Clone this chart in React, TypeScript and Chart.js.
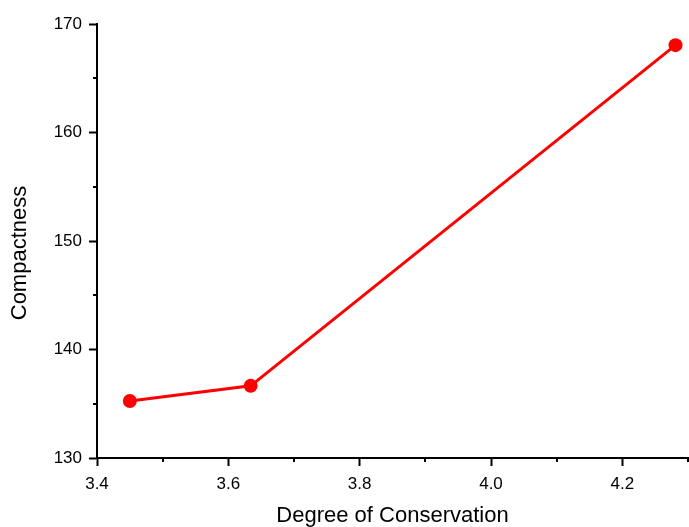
import React, { useEffect, useRef } from "react";
import { Chart, registerables } from "chart.js";

Chart.register(...registerables);

const conservation = [3.45, 3.634, 4.281];
const compactness = [135.25, 136.65, 168.05];
const xMajorStep = 0.2;
const yMajorStep = 10;
const xMinorTicks = [3.5, 3.7, 3.9, 4.1, 4.3];
const yMinorTicks = [135, 145, 155, 165];
const xTitle = "Degree of Conservation";
const yTitle = "Compactness";

const FONT = "'Liberation Sans', Arial, sans-serif";

const extrasPlugin = {
  id: "extras",
  afterDraw(chart: any) {
    const ctx = chart.ctx;
    const xs = chart.scales.x;
    const ys = chart.scales.y;
    const area = chart.chartArea;
    ctx.save();
    ctx.strokeStyle = "#000";
    ctx.lineWidth = 2;
    ctx.beginPath();
    xMinorTicks.forEach((v) => {
      const px = Math.round(xs.getPixelForValue(v));
      ctx.moveTo(px, area.bottom);
      ctx.lineTo(px, area.bottom + 4);
    });
    yMinorTicks.forEach((v) => {
      const py = Math.round(ys.getPixelForValue(v));
      ctx.moveTo(area.left, py);
      ctx.lineTo(area.left - 4, py);
    });
    ctx.stroke();
    // y-axis title
    ctx.translate(20, (area.top + area.bottom) / 2 + 12);
    ctx.rotate(-Math.PI / 2);
    ctx.fillStyle = "#000";
    ctx.font = `22px ${FONT}`;
    ctx.textAlign = "center";
    ctx.textBaseline = "middle";
    ctx.fillText(yTitle, 0, 0);
    ctx.restore();
  },
};

export default function App() {
  const ref = useRef<HTMLCanvasElement>(null);
  useEffect(() => {
    if (!ref.current) return;
    const chart = new Chart(ref.current, {
      type: "line",
      data: {
        datasets: [
          {
            data: conservation.map((x, i) => ({ x, y: compactness[i] })),
            borderColor: "#ff0000",
            backgroundColor: "#ff0000",
            borderWidth: 3,
            pointRadius: 7,
            pointBorderWidth: 0,
            pointBackgroundColor: "#ff0000",
            tension: 0,
            clip: false,
          },
        ],
      },
      options: {
        animation: false,
        responsive: false,
        devicePixelRatio: 1,
        layout: { autoPadding: false, padding: { top: 24, right: 1, left: 0, bottom: 0 } },
        plugins: { legend: { display: false }, tooltip: { enabled: false } },
        scales: {
          x: {
            type: "linear",
            min: 3.4,
            max: 4.3,
            afterFit: (s: any) => {
              s.height = 69;
            },
            ticks: {
              stepSize: xMajorStep,
              includeBounds: false,
              color: "#000",
              padding: 8,
              font: { family: FONT, size: 17 },
              callback: (v: any) => Number(v).toFixed(1),
            },
            grid: {
              display: true,
              drawOnChartArea: false,
              drawTicks: true,
              tickLength: 8,
              tickWidth: 2,
              tickColor: "#000",
            },
            border: { display: true, color: "#000", width: 2 },
            title: {
              display: true,
              text: xTitle,
              color: "#000",
              font: { family: FONT, size: 22, lineHeight: 1.05 },
              padding: { top: 0, bottom: 0 },
            },
          },
          y: {
            type: "linear",
            min: 130,
            max: 170,
            afterFit: (s: any) => {
              s.width = 97;
            },
            ticks: {
              stepSize: yMajorStep,
              includeBounds: false,
              color: "#000",
              padding: 7,
              font: { family: FONT, size: 17 },
            },
            grid: {
              display: true,
              drawOnChartArea: false,
              drawTicks: true,
              tickLength: 8,
              tickWidth: 2,
              tickColor: "#000",
            },
            border: { display: true, color: "#000", width: 2 },
          },
        },
      },
      plugins: [extrasPlugin],
    });
    return () => chart.destroy();
  }, []);
  return (
    <div style={{ position: "absolute", left: 0, top: 0, width: 689, height: 527, background: "#fff" }}>
      <canvas ref={ref} width={689} height={527} style={{ display: "block" }} />
    </div>
  );
}
